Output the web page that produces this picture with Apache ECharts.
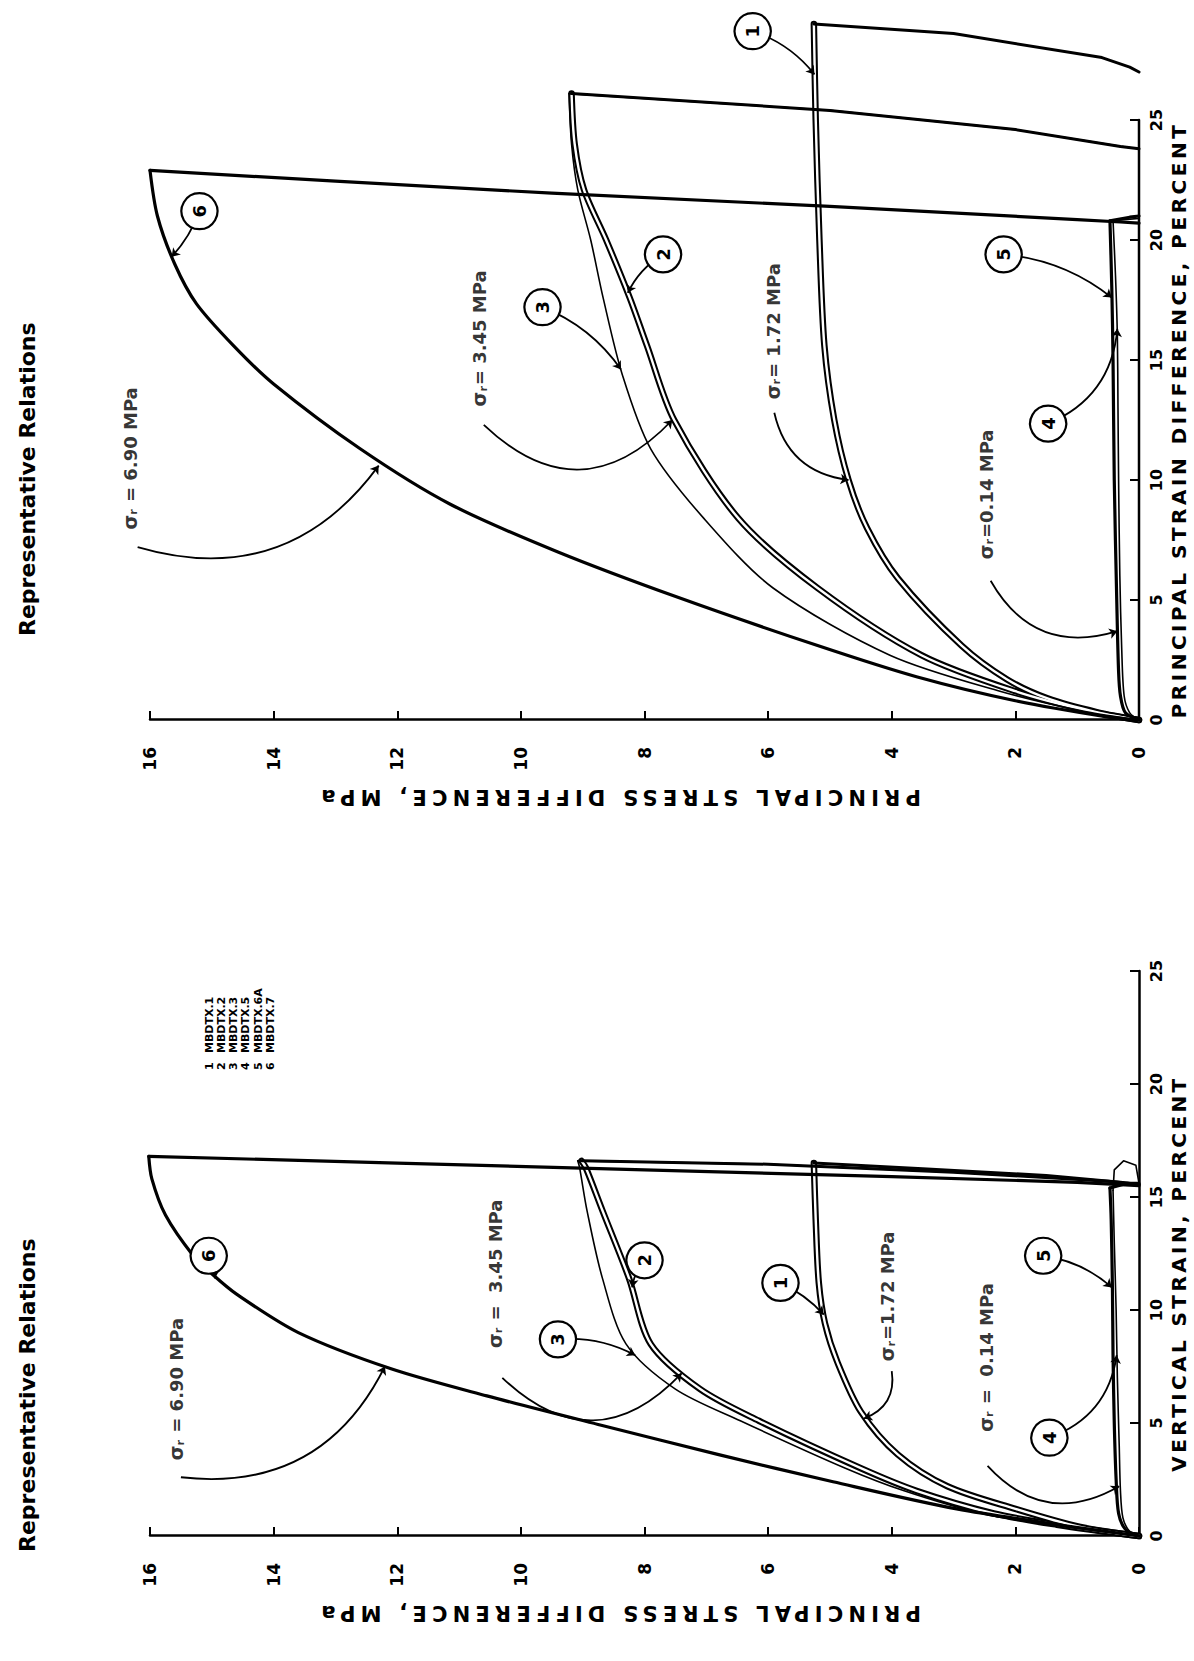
<!DOCTYPE html>
<html>
<head>
<meta charset="utf-8">
<title>Representative Relations</title>
<script src="https://cdn.jsdelivr.net/npm/echarts@6/dist/echarts.min.js"></script>
<style>
html, body { margin:0; padding:0; background:#fff; width:1194px; height:1661px; overflow:hidden; }
#rot { position:absolute; left:0; top:0; width:1661px; height:1194px; transform-origin:0 0; transform: translate(0px, 1661px) rotate(-90deg); }
#chart { width:1661px; height:1194px; }
</style>
</head>
<body>
<div id="rot"><div id="chart"></div></div>
<script>
// ---------- axes ----------
const strainTicks = [0, 5, 10, 15, 20, 25];
const stressTicks = [0, 2, 4, 6, 8, 10, 12, 14, 16];
const testIds = ['MBDTX.1', 'MBDTX.2', 'MBDTX.3', 'MBDTX.5', 'MBDTX.6A', 'MBDTX.7'];

// ---------- left panel: [vertical strain %, principal stress difference MPa] ----------
const v1Load   = [[0,0],[0.4,0.95],[1.2,2.0],[2.2,3.1],[3.6,3.9],[5.5,4.5],[7.7,4.88],[9.4,5.08],[11.2,5.18],[14.0,5.23],[16.5,5.26]];
const v1Unload = [[16.5,5.26],[16.25,3.5],[15.95,1.5],[15.65,0.3],[15.55,0]];
const v2Load   = [[0,0],[0.5,1.33],[1.0,2.35],[2.0,3.6],[3.0,4.5],[5.1,6.15],[6.5,7.1],[8.5,7.9],[11.4,8.25],[14.4,8.68],[16.3,8.95],[16.6,9.02]];
const v2Unload = [[16.6,9.02],[16.45,6.0],[16.1,3.0],[15.7,0.5],[15.55,0]];
const v3Load   = [[0,0],[0.5,1.45],[1.0,2.55],[2.0,3.8],[3.0,4.75],[5.1,6.45],[6.5,7.5],[8.5,8.3],[11.4,8.68],[14.4,8.93],[16.3,9.05],[16.6,9.08]];
const v3Unload = [[16.6,9.08],[16.45,6.0],[16.1,3.0],[15.7,0.5],[15.55,0]];
const v4Load   = [[0,0],[0.2,0.15],[0.8,0.26],[2,0.3],[4,0.32],[7,0.35],[10,0.37],[13,0.4],[15.3,0.42]];
const v4Unload = [[15.3,0.42],[16.2,0.4],[16.6,0.25],[16.4,0.05],[15.6,0]];
const v5Load   = [[0,0],[0.3,0.22],[1,0.33],[2.5,0.37],[5,0.4],[8,0.42],[11,0.43],[14,0.45],[15.4,0.47]];
const v5Unload = [[15.4,0.47],[15.6,0.2],[15.6,0]];
const v6Load   = [[0,0],[0.4,1.05],[1.2,2.95],[2.4,4.95],[3.6,6.8],[4.9,8.7],[6.2,10.55],[7.4,12.1],[9.0,13.6],[10.7,14.6],[11.6,15.0],[12.4,15.3],[14.2,15.75],[15.8,15.97],[16.8,16.02]];
const v6Unload = [[16.8,16.02],[16.5,12.0],[16.2,8.0],[15.9,4.0],[15.65,1.0],[15.55,0.3],[15.5,0]];

// ---------- right panel: [principal strain difference %, principal stress difference MPa] ----------
const p1Load   = [[0,0],[0.32,0.67],[0.9,1.48],[1.7,2.14],[3.1,2.87],[5.9,3.9],[8.0,4.4],[10.0,4.7],[12.5,4.93],[15.6,5.09],[20,5.17],[25,5.23],[29.0,5.26]];
const p1Unload = [[29.0,5.26],[28.6,3.0],[27.6,0.6],[27.2,0.15],[27.0,0]];
const p2Load   = [[0,0],[0.35,0.77],[1.2,2.0],[2.7,3.52],[5.5,5.2],[8.4,6.48],[12.5,7.52],[15.6,7.96],[17.6,8.24],[20,8.62],[22.1,8.98],[24,9.13],[26.1,9.18]];
const p2Unload = [[26.1,9.18],[25.4,5.0],[24.6,2.0],[23.9,0.3],[23.8,0]];
const p3Load   = [[0,0],[0.35,0.87],[1.2,2.25],[2.7,4.03],[5.5,5.92],[8.4,7.04],[11.3,7.9],[14.4,8.36],[17.6,8.67],[20,8.87],[22.1,9.08],[24,9.18],[26.1,9.22]];
const p3Unload = [[26.1,9.22],[25.4,5.0],[24.6,2.0],[23.9,0.3],[23.8,0]];
const p4Load   = [[0,0],[0.3,0.15],[1,0.24],[3,0.28],[6,0.31],[10,0.33],[13,0.34],[16,0.35],[18.5,0.38],[20.8,0.42]];
const p4Unload = [[20.8,0.42],[20.9,0]];
const p5Load   = [[0,0],[0.3,0.22],[1,0.3],[2,0.33],[5,0.36],[10,0.4],[15,0.42],[18,0.44],[20.8,0.47]];
const p5Unload = [[20.8,0.47],[20.95,0.15],[21.0,0]];
const p6Load   = [[0,0],[0.14,0.54],[0.8,2.0],[1.8,3.6],[3.1,5.2],[5.1,7.45],[7.0,9.4],[9.0,11.15],[11.3,12.6],[14.0,14.0],[15.6,14.65],[17.35,15.25],[19.0,15.6],[21.0,15.88],[22.9,16.0]];
const p6Unload = [[22.9,16.0],[22.45,13.0],[21.95,9.5],[21.4,5.0],[20.85,1.0],[20.75,0.3],[20.7,0]];

// ---------- annotations ----------
// circled curve numbers: [strain, stress, number]
const vCircles = [[12.4,15.05,'6'],[8.7,9.4,'3'],[12.2,8.0,'2'],[11.2,5.8,'1'],[12.4,1.55,'5'],[4.35,1.45,'4']];
const pCircles = [[21.2,15.2,'6'],[17.2,9.65,'3'],[19.4,7.7,'2'],[28.7,6.25,'1'],[19.4,2.19,'5'],[12.35,1.47,'4']];
// leader arrows: [fromStrain, fromStress, toStrain, toStress, bend]
const vLeaders = [[12.4,15.05,11.4,14.95,0.1],[8.7,9.4,8.0,8.15,0.15],[12.2,8.0,11.0,8.2,-0.15],[11.2,5.8,9.8,5.1,0.1],
                  [12.4,1.55,11.0,0.44,0.15],[4.35,1.45,8.0,0.36,-0.3],
                  [2.6,15.5,7.5,12.2,-0.35],[7.0,10.3,7.2,7.4,-0.5],[7.3,4.0,5.2,4.45,0.4],[3.1,2.45,2.2,0.32,-0.4]];
const pLeaders = [[21.2,15.2,19.3,15.65,0.1],[17.2,9.65,14.6,8.38,0.15],[19.4,7.7,17.8,8.27,-0.15],[28.7,6.25,26.9,5.25,0.15],
                  [19.4,2.19,17.6,0.44,0.15],[12.35,1.47,16.3,0.35,-0.3],
                  [7.2,16.2,10.6,12.3,-0.35],[12.3,10.6,12.5,7.55,-0.5],[12.8,5.9,10.0,4.7,-0.35],[5.8,2.4,3.7,0.35,-0.4]];
// confining pressure labels: [strain, stress, value, separator]
const vSigma = [[6.5,15.6,'6.90',' = '],[11.6,10.45,'3.45',' =  '],[10.6,4.1,'1.72','='],[7.9,2.5,'0.14',' =  ']];
const pSigma = [[10.9,16.35,'6.90',' = '],[15.9,10.7,'3.45','= '],[16.2,5.95,'1.72','= '],[9.4,2.5,'0.14','=']];

const FONT = '"DejaVu Sans", "Liberation Sans", Arial, sans-serif';
const BLACK = '#000';

function lineS(gi, name, data, width, color, z, smooth) {
  return { type:'line', name: name, xAxisIndex:gi, yAxisIndex:gi, data: data, showSymbol:false, symbol:'none',
           smooth: smooth ? 0.3 : false, clip:false, silent:true, z: z,
           lineStyle:{ color: color, width: width, cap:'round', join:'round' } };
}
function curve(gi, name, load, unload, kind) {
  const out = [];
  if (kind === 'hollow') {
    out.push(lineS(gi, name, load, 6.5, BLACK, 2, true));
    out.push(lineS(gi, null, load, 2.4, '#fff', 3, true));
    out.push(lineS(gi, null, unload, 3, BLACK, 4, false));
  } else {
    const w = kind === 'thick' ? 3.2 : 1.6;
    out.push(lineS(gi, name, load, w, BLACK, 4, true));
    out.push(lineS(gi, null, unload, w, BLACK, 4, false));
  }
  return out;
}
function annot(gi, circles, leaders, sigmas) {
  const s = [];
  s.push({ type:'lines', coordinateSystem:'cartesian2d', xAxisIndex:gi, yAxisIndex:gi, silent:true, z:5, clip:false,
    symbol:['none','arrow'], symbolSize:8,
    data: leaders.map(l => ({ coords:[[l[0],l[1]],[l[2],l[3]]], lineStyle:{ curveness:l[4] } })),
    lineStyle:{ color:BLACK, width:1.8, opacity:1 } });
  s.push({ type:'scatter', xAxisIndex:gi, yAxisIndex:gi, silent:true, z:6, clip:false,
    symbol:'circle', symbolSize:36,
    itemStyle:{ color:'#fff', borderColor:BLACK, borderWidth:2.2, opacity:1 },
    label:{ show:true, position:'inside', formatter: p => p.data[2], color:BLACK, fontFamily:FONT, fontWeight:'bold', fontSize:18 },
    data: circles });
  s.push({ type:'scatter', xAxisIndex:gi, yAxisIndex:gi, silent:true, z:6, clip:false,
    symbol:'circle', symbolSize:1, itemStyle:{ color:'rgba(0,0,0,0)' },
    label:{ show:true, position:'inside', color:BLACK,
      formatter: p => '{s|σ}{r|r}{t|' + p.data[3] + p.data[2] + ' MPa}',
      rich:{ s:{ fontFamily:FONT, fontWeight:'bold', fontSize:19, color:BLACK, lineHeight:22, verticalAlign:'bottom' },
             r:{ fontFamily:FONT, fontWeight:'bold', fontSize:11, color:BLACK, lineHeight:22, verticalAlign:'bottom', padding:[0,1,0,0] },
             t:{ fontFamily:FONT, fontWeight:'bold', fontSize:18, color:BLACK, lineHeight:22, verticalAlign:'bottom' } } },
    data: sigmas });
  return s;
}

function xAx(gi, name, maxVal, shift) {
  return { type:'value', gridIndex:gi, min:strainTicks[0], max:maxVal, interval:5,
    axisLine:{ show: maxVal === strainTicks[strainTicks.length-1], onZero:false, lineStyle:{ color:BLACK, width:2.5 } },
    axisTick:{ show:true, inside:true, length:9, customValues: strainTicks, lineStyle:{ color:BLACK, width:2 } },
    axisLabel:{ color:BLACK, fontFamily:FONT, fontWeight:'bold', fontSize:16, margin:9, customValues: strainTicks },
    splitLine:{ show:false },
    name: name, nameLocation:'middle', nameGap:30,
    nameTextStyle:{ color:BLACK, fontFamily:FONT, fontWeight:'bold', fontSize:20, padding:[0, shift, 0, 0] } };
}
function yAx(gi) {
  return { type:'value', gridIndex:gi, min:stressTicks[0], max:stressTicks[stressTicks.length-1], interval:2,
    axisLine:{ show:true, onZero:false, lineStyle:{ color:BLACK, width:2.5 } },
    axisTick:{ show:true, inside:true, length:9, lineStyle:{ color:BLACK, width:2 } },
    axisLabel:{ color:BLACK, fontFamily:FONT, fontWeight:'bold', fontSize:17, margin:27 },
    splitLine:{ show:false },
    name:'PRINCIPAL STRESS DIFFERENCE, MPa', nameLocation:'middle', nameGap:66, nameRotate:90,
    nameTextStyle:{ color:BLACK, fontFamily:FONT, fontWeight:'bold', fontSize:21, padding:[0,0,0,52] } };
}

const series = [].concat(
  curve(0, testIds[0], v1Load, v1Unload, 'hollow'),
  curve(0, testIds[1], v2Load, v2Unload, 'hollow'),
  curve(0, testIds[2], v3Load, v3Unload, 'thin'),
  curve(0, testIds[3], v4Load, v4Unload, 'thin'),
  curve(0, testIds[4], v5Load, v5Unload, 'thick'),
  curve(0, testIds[5], v6Load, v6Unload, 'thick'),
  curve(1, testIds[0], p1Load, p1Unload, 'hollow'),
  curve(1, testIds[1], p2Load, p2Unload, 'hollow'),
  curve(1, testIds[2], p3Load, p3Unload, 'thin'),
  curve(1, testIds[3], p4Load, p4Unload, 'thin'),
  curve(1, testIds[4], p5Load, p5Unload, 'thick'),
  curve(1, testIds[5], p6Load, p6Unload, 'thick'),
  // right-panel strain axis line, drawn only over the labelled range 0..25
  [lineS(1, null, [[strainTicks[0], stressTicks[0]], [strainTicks[strainTicks.length-1], stressTicks[0]]], 2.5, BLACK, 10, false)],
  annot(0, vCircles, vLeaders, vSigma),
  annot(1, pCircles, pLeaders, pSigma)
);

const option = {
  animation:false,
  backgroundColor:'#fff',
  title:[
    { text:'Representative Relations', left:109, top:16, padding:0,
      textStyle:{ fontFamily:FONT, fontWeight:'bold', fontSize:22, color:BLACK } },
    { text:'Representative Relations', left:1025, top:16, padding:0,
      textStyle:{ fontFamily:FONT, fontWeight:'bold', fontSize:22, color:BLACK } }
  ],
  legend:{
    show:true, orient:'vertical', left:586, top:203, padding:0, icon:'none', itemWidth:0, itemHeight:8, itemGap:0.3,
    selectedMode:false, data:testIds,
    formatter: name => '{n|' + (testIds.indexOf(name) + 1) + '}{t|' + name + '}',
    textStyle:{ color:BLACK, fontFamily:FONT, fontWeight:'bold', fontSize:11, lineHeight:12,
      rich:{ n:{ width:17, fontFamily:FONT, fontWeight:'bold', fontSize:11, color:BLACK },
             t:{ fontFamily:FONT, fontWeight:'bold', fontSize:11, color:BLACK } } }
  },
  grid:[
    { left:125, top:150, width:565, height:992, containLabel:false },
    { left:941, top:150, width:720, height:992, containLabel:false }
  ],
  xAxis:[ xAx(0, 'VERTICAL STRAIN, PERCENT', 25, 40), xAx(1, 'PRINCIPAL STRAIN DIFFERENCE, PERCENT', 30, 120) ],
  yAxis:[ yAx(0), yAx(1) ],
  series: series
};

const chart = echarts.init(document.getElementById('chart'), null, { renderer:'svg', width:1661, height:1194 });
chart.setOption(option);

const spaced = {
  'PRINCIPAL STRESS DIFFERENCE, MPa':'5.2px',
  'VERTICAL STRAIN, PERCENT':'3.4px',
  'PRINCIPAL STRAIN DIFFERENCE, PERCENT':'3.5px'
};
function applySpacing() {
  document.querySelectorAll('#chart svg text').forEach(t => {
    const k = (t.textContent || '').trim();
    if (spaced[k]) t.style.letterSpacing = spaced[k];
  });
}
chart.on('finished', applySpacing);
applySpacing();
setTimeout(applySpacing, 50);
</script>
</body>
</html>
